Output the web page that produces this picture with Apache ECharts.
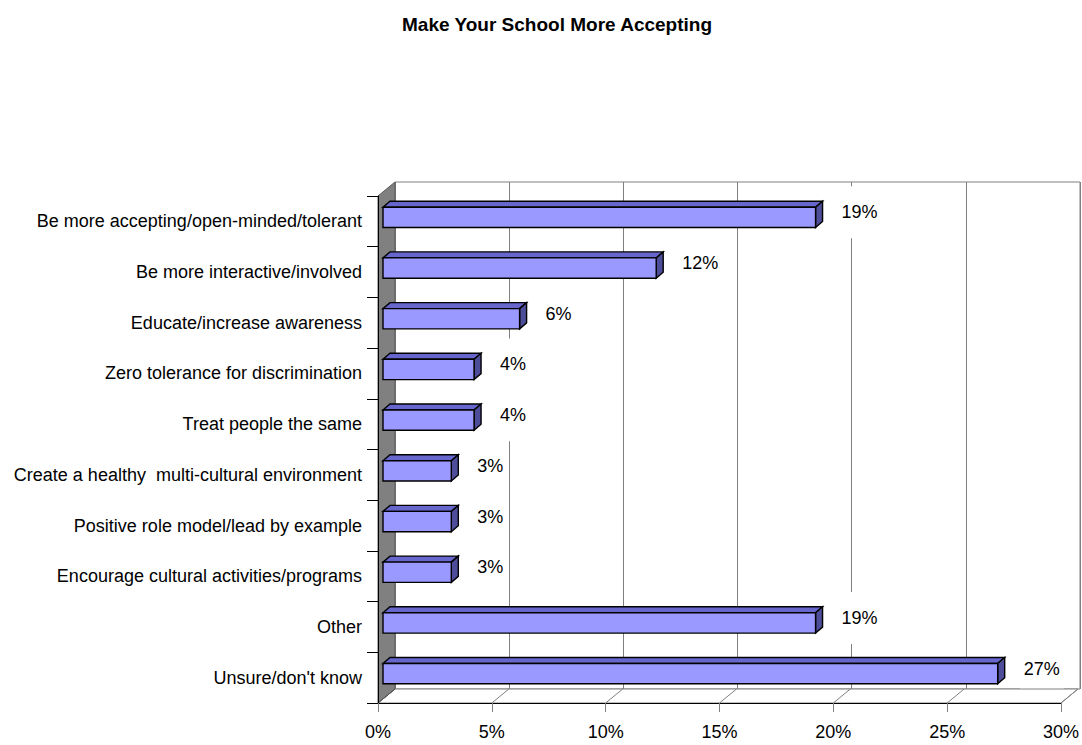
<!DOCTYPE html>
<html>
<head>
<meta charset="utf-8">
<title>Make Your School More Accepting</title>
<script src="https://cdn.jsdelivr.net/npm/echarts/dist/echarts.min.js"></script>
<style>
  html, body { margin: 0; padding: 0; background: #fff; }
  #chart { width: 1082px; height: 745px; }
</style>
</head>
<body>
<div id="chart"></div>
<script>
// Survey answers, top to bottom
const categories = [
  'Be more accepting/open-minded/tolerant',
  'Be more interactive/involved',
  'Educate/increase awareness',
  'Zero tolerance for discrimination',
  'Treat people the same',
  'Create a healthy  multi-cultural environment',
  'Positive role model/lead by example',
  'Encourage cultural activities/programs',
  'Other',
  "Unsure/don't know"
];

// Share of respondents, in percent
const percentValues = [19, 12, 6, 4, 4, 3, 3, 3, 19, 27];

// Value axis ticks (percent)
const valueTicks = [0, 5, 10, 15, 20, 25, 30];

const FONT = '"Liberation Sans", Arial, Helvetica, sans-serif';

// Front plane of the pseudo-3D plot box
const FRONT = { left: 378, top: 196, width: 685, height: 507 };
// Offset of the back wall relative to the front plane
const DEPTH = [17, -14];
// Bars sit part-way into the depth: front face and back face offsets
const BAR_FRONT = [5, -4];
const BAR_BACK = [12, -10];

const chart = echarts.init(document.getElementById('chart'), null, { renderer: 'svg' });

// Grey side wall on the left of the plot box
const wallSeries = {
  type: 'custom',
  xAxisIndex: 0,
  yAxisIndex: 0,
  silent: true,
  z: 1,
  data: [[0, 0]],
  encode: { x: 0, y: 1 },
  renderItem: function (params) {
    const cs = params.coordSys;
    const bottom = cs.y + cs.height;
    return {
      type: 'polygon',
      shape: { points: [
        [cs.x, cs.y], [cs.x + DEPTH[0], cs.y + DEPTH[1]],
        [cs.x + DEPTH[0], bottom + DEPTH[1]], [cs.x, bottom]
      ] },
      style: { fill: '#808080', stroke: '#5a5a5a', lineWidth: 1 }
    };
  }
};

// Floor with its receding grid lines, one per value tick
const floorSeries = {
  type: 'custom',
  xAxisIndex: 0,
  yAxisIndex: 0,
  silent: true,
  z: 4,
  data: valueTicks.map(t => [t, 0]),
  encode: { x: 0, y: 1 },
  renderItem: function (params, api) {
    const cs = params.coordSys;
    const bottom = cs.y + cs.height;
    const x = api.coord([api.value(0), 0])[0];
    const children = [];
    if (params.dataIndex === 0) {
      children.push({
        type: 'polygon', z2: 0,
        shape: { points: [
          [cs.x, bottom], [cs.x + cs.width, bottom],
          [cs.x + cs.width + DEPTH[0], bottom + DEPTH[1]], [cs.x + DEPTH[0], bottom + DEPTH[1]]
        ] },
        style: { fill: '#ffffff', stroke: '#808080', lineWidth: 1 }
      });
      children.push({
        type: 'polygon', z2: 2,
        shape: { points: [
          [cs.x, bottom], [cs.x + DEPTH[0], bottom + DEPTH[1]],
          [cs.x + DEPTH[0] + 0.01, bottom + DEPTH[1]], [cs.x + 0.01, bottom]
        ] },
        style: { fill: '#808080', stroke: '#5a5a5a', lineWidth: 1 }
      });
    }
    children.push({
      type: 'line', z2: 1,
      shape: { x1: x, y1: bottom, x2: x + DEPTH[0], y2: bottom + DEPTH[1] },
      style: { stroke: '#808080', lineWidth: 1 }
    });
    return { type: 'group', children: children };
  }
};

// 3D bars with their value labels
const barSeries = {
  type: 'custom',
  name: 'Share',
  xAxisIndex: 0,
  yAxisIndex: 0,
  z: 3,
  data: percentValues.map((v, i) => [v, i]),
  encode: { x: 0, y: 1 },
  renderItem: function (params, api) {
    const v = api.value(0);
    const idx = api.value(1);
    const p0 = api.coord([0, idx]);
    const p1 = api.coord([v, idx]);
    const thick = api.size([0, 1])[1] * 0.4;
    const x0 = p0[0] + BAR_FRONT[0];
    const x1 = p1[0] + BAR_FRONT[0];
    const cy = p0[1] + BAR_FRONT[1];
    const yt = cy - thick / 2;
    const yb = cy + thick / 2;
    const dx = BAR_BACK[0] - BAR_FRONT[0];
    const dy = BAR_BACK[1] - BAR_FRONT[1];
    const edge = { stroke: '#000000', lineWidth: 1.4, lineJoin: 'miter' };
    return {
      type: 'group',
      children: [
        {
          type: 'polygon',
          shape: { points: [[x0, yt], [x1, yt], [x1 + dx, yt + dy], [x0 + dx, yt + dy]] },
          style: Object.assign({ fill: '#6666cc' }, edge)
        },
        {
          type: 'polygon',
          shape: { points: [[x1, yt], [x1 + dx, yt + dy], [x1 + dx, yb + dy], [x1, yb]] },
          style: Object.assign({ fill: '#4d4d99' }, edge)
        },
        {
          type: 'rect',
          shape: { x: x0, y: yt, width: x1 - x0, height: thick },
          style: Object.assign({ fill: '#9999ff' }, edge)
        },
        {
          type: 'text',
          style: {
            text: v + '%',
            x: x1 + dx + 15,
            y: cy - 5,
            align: 'left',
            verticalAlign: 'middle',
            fontFamily: FONT,
            fontSize: 18,
            fill: '#000000',
            backgroundColor: '#ffffff',
            padding: [17, 4, 17, 4]
          }
        }
      ]
    };
  }
};

const option = {
  animation: false,
  backgroundColor: '#ffffff',
  title: {
    text: 'Make Your School More Accepting',
    left: 397,
    top: 10,
    textStyle: { fontFamily: FONT, fontSize: 19, fontWeight: 'bold', color: '#000000' }
  },
  grid: [
    { left: FRONT.left, top: FRONT.top, width: FRONT.width, height: FRONT.height, z: 5 },
    {
      left: FRONT.left + DEPTH[0], top: FRONT.top + DEPTH[1],
      width: FRONT.width, height: FRONT.height,
      show: true, borderColor: '#808080', borderWidth: 1, backgroundColor: 'transparent', z: 0
    }
  ],
  xAxis: [
    {
      gridIndex: 0, type: 'value', min: 0, max: 30, interval: 5, z: 6,
      axisLine: { show: true, lineStyle: { color: '#000000', width: 1 } },
      axisTick: { show: true, length: 9, lineStyle: { color: '#808080' } },
      axisLabel: { formatter: '{value}%', margin: 20, fontFamily: FONT, fontSize: 18, color: '#000000' },
      splitLine: { show: false }
    },
    {
      gridIndex: 1, type: 'value', min: 0, max: 30, interval: 5, z: 0,
      axisLine: { show: false }, axisTick: { show: false }, axisLabel: { show: false },
      splitLine: { show: true, lineStyle: { color: '#808080', width: 1 } }
    }
  ],
  yAxis: [
    {
      gridIndex: 0, type: 'category', data: categories, inverse: true, z: 6,
      axisLine: { show: true, lineStyle: { color: '#000000', width: 1 } },
      axisTick: { show: true, length: 11, lineStyle: { color: '#000000' } },
      axisLabel: { margin: 16, fontFamily: FONT, fontSize: 18, color: '#000000' },
      splitLine: { show: false }
    },
    {
      gridIndex: 1, type: 'category', data: categories, inverse: true, show: false
    }
  ],
  series: [wallSeries, barSeries, floorSeries]
};

chart.setOption(option);
</script>
</body>
</html>
